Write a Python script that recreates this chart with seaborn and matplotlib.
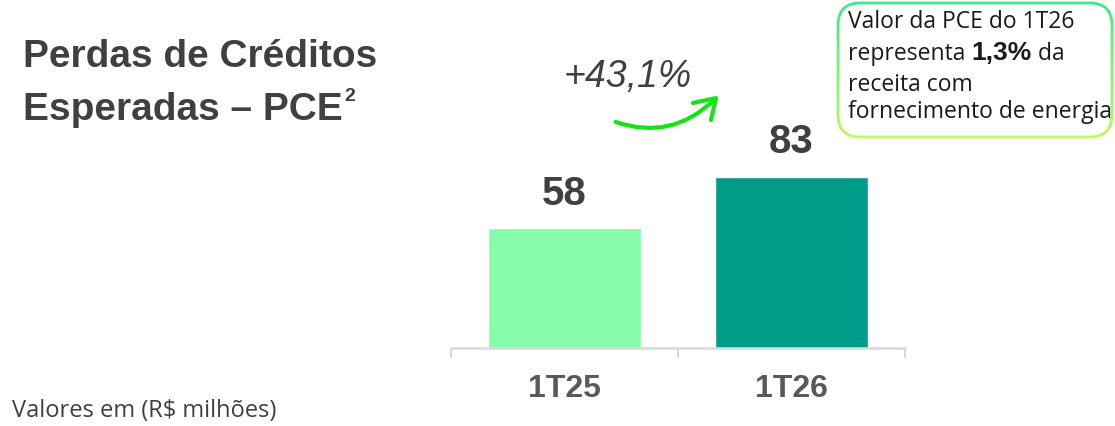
import matplotlib
matplotlib.use("Agg")
import matplotlib.pyplot as plt
import seaborn as sns
import numpy as np
from matplotlib.patches import FancyBboxPatch, Rectangle, FancyArrowPatch
from matplotlib.lines import Line2D

categories = ["1T25", "1T26"]
values = [58, 83]
bar_colors = ["#86FBA9", "#009C8A"]
title_line1 = "Perdas de Créditos"
title_line2 = "Esperadas – PCE"
growth_label = "+43,1%"
note_label = "Valores em (R\\$ milhões)"

sns.set_theme(style="white")
plt.rcParams['font.family'] = ['Liberation Sans', 'DejaVu Sans']

W, H = 1115, 426
fig = plt.figure(figsize=(W / 100, H / 100), dpi=100)
fig.patch.set_facecolor("white")


def fx(px):
    return px / W


def fy(py):
    return 1 - py / H


ax = fig.add_axes([451 / W, 78 / H, 454 / W, 206.5 / H])
sns.barplot(x=categories, y=values, hue=categories, palette=bar_colors,
            width=0.67, saturation=1, legend=False, ax=ax)
ax.set_xlim(-0.5, 1.5)
ax.set_ylim(0, 100)
ax.set_xlabel("")
ax.set_ylabel("")
ax.set_yticks([])
for s in ["top", "right", "left"]:
    ax.spines[s].set_visible(False)
ax.spines["bottom"].set_color("#d9d9d9")
ax.spines["bottom"].set_linewidth(1.8)
ax.set_xticks([0, 1])
ax.set_xticklabels(categories, fontsize=23, fontweight="bold", color="#595959")
ax.tick_params(axis="x", which="major", length=0, pad=19)
ax.set_xticks([-0.5, 0.5, 1.5], minor=True)
ax.tick_params(axis="x", which="minor", length=7.5, width=1.5, color="#d9d9d9",
               direction="out", bottom=True)
ax.patch.set_alpha(0)

for i, v in enumerate(values):
    ax.annotate(f"{v}", (i, v), xytext=(0, 17), textcoords="offset points",
                ha="center", va="baseline", fontsize=29, fontweight="bold",
                color="#404040")

# Title
fig.text(fx(23), fy(67), title_line1, fontsize=28, fontweight="bold",
         color="#404040", ha="left", va="baseline")
t2 = fig.text(fx(23), fy(120), title_line2, fontsize=28, fontweight="bold",
              color="#404040", ha="left", va="baseline")
fig.canvas.draw()
b = t2.get_window_extent()
fig.text(b.x1 / W + fx(2), fy(101), "2", fontsize=14, fontweight="bold",
         color="#404040", ha="left", va="baseline")

# Growth label and arrow
fig.text(fx(628), fy(87), growth_label, fontsize=27, style="italic",
         color="#404040", ha="center", va="baseline")
green = "#12E612"
fig.patches.append(FancyArrowPatch(
    (fx(613), fy(121)), (fx(716), fy(98)),
    transform=fig.transFigure, connectionstyle="arc3,rad=0.32",
    arrowstyle="-", color=green, linewidth=3, capstyle="round"))
fig.lines.append(Line2D([fx(693), fx(716), fx(711)],
                        [fy(103), fy(98), fy(120)],
                        transform=fig.transFigure, color=green,
                        linewidth=3, solid_capstyle="round",
                        solid_joinstyle="round"))

# Info box with gradient border
bx0, by0, bx1, by1 = fx(838), fy(137), fx(1112), fy(3)
top_col = np.array([0x3D, 0xE8, 0x8A]) / 255
bot_col = np.array([0xBF, 0xFA, 0x5A]) / 255
bs = "round,pad=0,rounding_size=0.02"
box_bg = FancyBboxPatch((bx0, by0), bx1 - bx0, by1 - by0, boxstyle=bs,
                        transform=fig.transFigure, facecolor="white",
                        edgecolor="none", mutation_aspect=W / H)
fig.patches.append(box_bg)
n = 24
for k in range(n):
    f = k / (n - 1)
    c = top_col * (1 - f) + bot_col * f
    span = by1 - by0 + 0.02
    y_hi = by1 + 0.01 - span * k / n
    y_lo = by1 + 0.01 - span * (k + 1) / n
    p = FancyBboxPatch((bx0, by0), bx1 - bx0, by1 - by0, boxstyle=bs,
                       transform=fig.transFigure, facecolor="none",
                       edgecolor=c, linewidth=2, mutation_aspect=W / H)
    clip = Rectangle((0, y_lo), 1, y_hi - y_lo, transform=fig.transFigure)
    p.set_clip_path(clip)
    fig.patches.append(p)

tx = fx(848)
fs = 16.5
bf = ['Open Sans', 'DejaVu Sans']
tc = "#1a1a1a"
fig.text(tx, fy(28), "Valor da PCE do 1T26", fontsize=fs, color=tc,
         family=bf, ha="left", va="baseline")
r1 = fig.text(tx, fy(60), "representa ", fontsize=fs, color=tc, family=bf,
              ha="left", va="baseline")
fig.canvas.draw()
x2 = r1.get_window_extent().x1 / W
r2 = fig.text(x2, fy(60), "1,3%", fontsize=19, fontweight="bold",
              color=tc, ha="left", va="baseline")
fig.canvas.draw()
x3 = r2.get_window_extent().x1 / W
fig.text(x3, fy(60), " da", fontsize=fs, color=tc, family=bf,
         ha="left", va="baseline")
fig.text(tx, fy(91), "receita com", fontsize=fs, color=tc, family=bf,
         ha="left", va="baseline")
fig.text(tx, fy(118), "fornecimento de energia", fontsize=fs, color=tc,
         family=bf, ha="left", va="baseline")

# Footnote
fig.text(fx(12), fy(417), note_label, fontsize=17, color="#404040", family=bf,
         ha="left", va="baseline")

fig.savefig("out.png", dpi=100, facecolor="white")
